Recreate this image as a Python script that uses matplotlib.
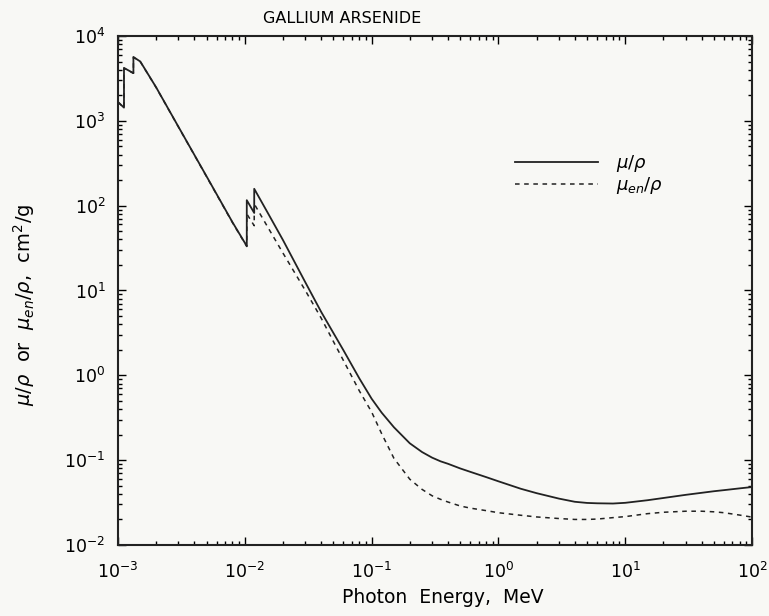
import matplotlib
matplotlib.use("Agg")
import matplotlib.pyplot as plt
from matplotlib.ticker import NullFormatter

# photon energy grid in MeV (edges appear twice: below / above)
energy = [1.0e-3, 1.1154e-3, 1.1154e-3, 1.3239e-3, 1.3239e-3, 1.5e-3,
          2.0e-3, 3.0e-3, 5.0e-3, 8.0e-3, 1.0367e-2, 1.0367e-2,
          1.1867e-2, 1.1867e-2, 1.5e-2, 2.0e-2, 3.0e-2, 4.0e-2,
          5.0e-2, 6.0e-2, 8.0e-2, 0.1, 0.12, 0.15, 0.2, 0.25, 0.3, 0.35, 0.4, 0.5, 0.6, 0.8,
          1.0, 1.5, 2.0, 3.0, 4.0, 5.0, 6.0, 8.0, 10.0, 15.0, 20.0, 30.0,
          40.0, 50.0, 60.0, 80.0, 100.0]

# mass attenuation coefficient mu/rho, cm2/g
mu_rho = [1667, 1430, 4200, 3650, 5650, 5000,
          2480, 849, 221, 63.7, 33.4, 116,
          82, 158, 84.8, 39.3, 12.5, 5.6,
          3.15, 1.97, 0.92, 0.53, 0.363, 0.244, 0.158, 0.1245, 0.107, 0.0968, 0.0906, 0.0798, 0.0728, 0.0631,
          0.0563, 0.046, 0.0408, 0.0352, 0.0323, 0.0313, 0.031, 0.0308, 0.0314, 0.0337, 0.0358, 0.039,
          0.0412, 0.043, 0.0443, 0.0465, 0.0482]

# mass energy-absorption coefficient mu_en/rho, cm2/g
mu_en_rho = [1660, 1425, 4180, 3630, 5620, 4970,
             2470, 845, 219, 63.0, 33.0, 80,
             58, 105, 57.5, 27.6, 10.0, 4.73,
             2.50, 1.49, 0.656, 0.37, 0.205, 0.105, 0.0596, 0.0452, 0.038, 0.0345, 0.0321, 0.0288, 0.0272, 0.0254,
             0.024, 0.0224, 0.0214, 0.0205, 0.02, 0.02, 0.0202, 0.021, 0.0216, 0.0234, 0.0243, 0.025,
             0.025, 0.0246, 0.024, 0.0225, 0.0213]

x_ticks = [1e-3, 1e-2, 1e-1, 1e0, 1e1, 1e2]
y_ticks = [1e-2, 1e-1, 1e0, 1e1, 1e2, 1e3, 1e4]

bg = '#f8f8f5'
fig = plt.figure(figsize=(7.69, 6.16), dpi=100, facecolor=bg)
ax = fig.add_axes([0.1534, 0.1153, 0.8246, 0.8263], facecolor=bg)

ax.plot(energy, mu_rho, color='#222222', linewidth=1.3, label=r'$\mu/\rho$')
ax.plot(energy, mu_en_rho, color='#222222', linewidth=1.1,
        linestyle=(0, (3, 3)), label=r'$\mu_{en}/\rho$')

ax.set_xscale('log')
ax.set_yscale('log')
ax.set_xticks(x_ticks)
ax.set_yticks(y_ticks)
ax.set_xlim(x_ticks[0], x_ticks[-1])
ax.set_ylim(y_ticks[0], y_ticks[-1])
ax.xaxis.set_minor_formatter(NullFormatter())
ax.yaxis.set_minor_formatter(NullFormatter())

ax.tick_params(which='both', direction='in', top=True, right=True, width=1.0)
ax.tick_params(which='major', length=6, labelsize=12.5)
ax.tick_params(axis='x', which='major', pad=12)
ax.tick_params(axis='y', which='major', pad=9)
ax.tick_params(which='minor', length=3)
for s in ax.spines.values():
    s.set_linewidth(1.5)
    s.set_color('#222222')

# title sits left of centre in the original
ax.text(0.353, 1.035, 'GALLIUM ARSENIDE', transform=ax.transAxes,
        ha='center', va='center', fontsize=11.5)
ax.set_xlabel('Photon  Energy,  MeV', fontsize=13.5)
ax.xaxis.set_label_coords(0.513, -0.084)
ax.set_ylabel(r'$\mu/\rho$  or  $\mu_{en}/\rho$,  cm$^2$/g', fontsize=14)
ax.yaxis.set_label_coords(-0.128, 0.4715)

ax.legend(loc='center left', bbox_to_anchor=(0.6, 0.728), frameon=False,
          handlelength=4.6, fontsize=13, labelspacing=0.05, handletextpad=1.0)

fig.savefig('out.png', dpi=100, facecolor=bg)
